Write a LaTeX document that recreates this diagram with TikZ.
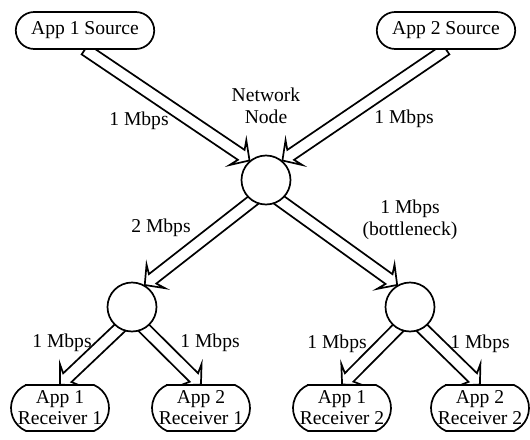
\documentclass[tikz,border=0pt]{standalone}
\usepackage{fontspec}
\setmainfont{Liberation Serif}
\usetikzlibrary{calc}
\pgfdeclarelayer{bg}
\pgfdeclarelayer{mid}
\pgfsetlayers{bg,mid,main}
\tikzset{
  hub/.style={circle, draw, fill=white, line width=0.85pt, minimum size=24.5pt, inner sep=0pt},
  boxtext/.style={inner sep=0pt, align=center, font=\fontsize{9.8pt}{10.5pt}\selectfont},
  boxline/.style={draw, fill=white, line width=0.85pt},
  lbl/.style={inner sep=0pt, align=center, font=\fontsize{9.8pt}{11pt}\selectfont},
  fatline/.style={draw, fill=white, line width=0.85pt, line join=miter}
}
% fat hollow arrow from #1 to #2
\newcommand\fatarr[2]{%
  \path let \p1=(#1), \p2=(#2) in \pgfextra{%
    \pgfmathsetmacro\faL{veclen(\x2-\x1,\y2-\y1)}%
    \pgfmathsetmacro\faA{atan2(\y2-\y1,\x2-\x1)}%
    \pgfmathsetmacro\faX{\x1}\pgfmathsetmacro\faY{\y1}%
    \global\let\faL\faL \global\let\faA\faA \global\let\faX\faX \global\let\faY\faY};
  \pgfmathsetmacro\faB{\faL-5}\pgfmathsetmacro\faC{\faL-7}%
  \begin{pgfonlayer}{bg}
  \draw[fatline, shift={(\faX pt,\faY pt)}, rotate=\faA] (0pt,3pt) -- (\faB pt,3pt) -- (\faC pt,7.5pt) -- (\faL pt,0pt) -- (\faC pt,-7.5pt) -- (\faB pt,-3pt) -- (0pt,-3pt) -- cycle;
  \end{pgfonlayer}
}
% box: name, position, half width, half height, arc depth, text
\newcommand\appbox[6]{%
  \node[boxtext, minimum width={2*#3pt}, minimum height={2*#4pt}] (#1) at #2 {#6};
  \pgfmathsetmacro\abR{(#4*#4+#5*#5)/(2*#5)}%
  \pgfmathsetmacro\abA{asin(min(1,#4/\abR))}%
  \pgfmathsetmacro\abS{#3-#5}%
  \begin{pgfonlayer}{mid}
  \draw[boxline] ([shift={(-\abS pt,#4pt)}]#1.center) -- ([shift={(\abS pt,#4pt)}]#1.center)
     arc[start angle=\abA, end angle=-\abA, radius=\abR pt]
     -- ([shift={(-\abS pt,-#4pt)}]#1.center)
     arc[start angle=180+\abA, end angle=180-\abA, radius=\abR pt] -- cycle;
  \end{pgfonlayer}
}
\begin{document}
\begin{tikzpicture}[x=0.5pt,y=-0.5pt]
\useasboundingbox (0,0) rectangle (530,439);
% sources
\appbox{src1}{(85,30.5)}{34.5}{9.25}{9}{App 1 Source}
\appbox{src2}{(446,30.5)}{34.5}{9.25}{9}{App 2 Source}
% hubs
\node[hub] (nn) at (266,180) {};
\node[hub] (lc) at (132,307) {};
\node[hub] (rc) at (410,307) {};
% receivers
\appbox{r11}{(60,408)}{24.5}{11.5}{7.5}{App 1\\Receiver 1}
\appbox{r21}{(201,408)}{24.5}{11.5}{7.5}{App 2\\Receiver 1}
\appbox{r12}{(342,408)}{24.5}{11.5}{7.5}{App 1\\Receiver 2}
\appbox{r22}{(480,408)}{24.5}{11.5}{7.5}{App 2\\Receiver 2}
% labels
\node[lbl] (nnlab) at (266,106) {Network\\Node};
\node[lbl] (la1) at (139,121) {1 Mbps};
\node[lbl] (la2) at (404,119) {1 Mbps};
\node[lbl] (la3) at (161,228) {2 Mbps};
\node[lbl] (la4) at (410,220) {1 Mbps\\(bottleneck)};
\node[lbl] (la5) at (62,343) {1 Mbps};
\node[lbl] (la6) at (210,343) {1 Mbps};
\node[lbl] (la7) at (337,344) {1 Mbps};
\node[lbl] (la8) at (480,344) {1 Mbps};
% arrows
\fatarr{src1.south}{nn.130}
\fatarr{src2.south}{nn.50}
\fatarr{$(nn)!0.6!(nn.250)$}{lc.60}
\fatarr{$(nn)!0.6!(nn.290)$}{rc.120}
\fatarr{$(lc)!0.6!(lc.250)$}{r11.north}
\fatarr{$(lc)!0.6!(lc.290)$}{r21.north}
\fatarr{$(rc)!0.6!(rc.250)$}{r12.north}
\fatarr{$(rc)!0.6!(rc.290)$}{r22.north}
\end{tikzpicture}
\end{document}
